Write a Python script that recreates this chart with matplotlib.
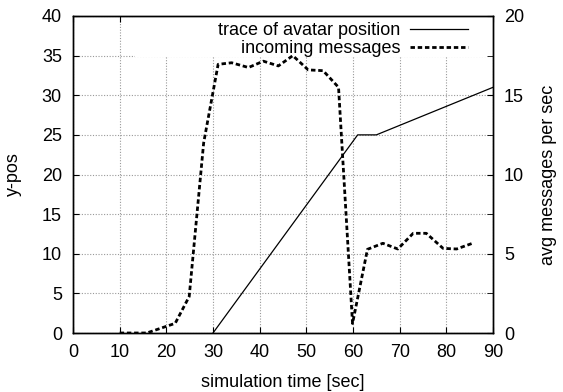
import matplotlib
matplotlib.use("Agg")
import matplotlib.pyplot as plt
from matplotlib.patches import Rectangle
from matplotlib.ticker import MultipleLocator

plt.rcParams['font.family'] = ['Liberation Sans', 'DejaVu Sans']

# avatar trace (left axis, y-pos)
trace_t = [30, 61, 65, 90]
trace_y = [0, 25, 25, 31]

# incoming messages (right axis, avg msgs per sec)
msg_t = [10, 13, 15.8, 21.9, 24.9, 28.0, 31.1, 34.0, 37.6, 40.8, 44.0, 47.1, 50.4,
         53.6, 56.9, 59.9, 63.1, 66.4, 69.6, 72.9, 75.7, 79.3, 82.2, 85.6]
msg_v = [0, 0, 0, 0.61, 2.3, 12.0, 16.95, 17.05, 16.75, 17.15, 16.85, 17.5, 16.6,
         16.55, 15.5, 0.6, 5.28, 5.66, 5.3, 6.29, 6.29, 5.34, 5.3, 5.66]

fig = plt.figure(figsize=(5.63, 3.92), dpi=100)
ax = fig.add_axes([73/563, 1-333/392, 420/563, 317/392])
ax2 = ax.twinx()

ax.set_xlim(0, 90)
ax.set_ylim(0, 40)
ax2.set_ylim(0, 20)

ax.xaxis.set_major_locator(MultipleLocator(10))
ax.yaxis.set_major_locator(MultipleLocator(5))
ax2.yaxis.set_major_locator(MultipleLocator(5))
ax2.yaxis.set_minor_locator(MultipleLocator(2.5))

ax.grid(True, color='#999999', linestyle=(0, (1, 1.5)), linewidth=0.8)
ax.set_axisbelow(True)

# white key background like gnuplot
ax.add_patch(Rectangle(((135-73)/420, (333-57)/317), (493-135)/420, 41/317,
                       transform=ax.transAxes, facecolor='white', edgecolor='none', zorder=1.5))

l1, = ax.plot(trace_t, trace_y, color='black', linewidth=0.9, zorder=3,
              label='trace of avatar position')
l2, = ax2.plot(msg_t, msg_v, color='black', linewidth=2.0, linestyle=(0, (1.6, 1.0)),
               zorder=3, label='incoming messages')

fs = 13
for a in (ax, ax2):
    a.tick_params(direction='in', length=4, width=0.8, labelsize=fs)
    for s in a.spines.values():
        s.set_linewidth(1.0)
ax.tick_params(top=True, right=False, pad=8)
ax2.tick_params(which='minor', direction='in', length=4, right=True)
ax2.tick_params(which='major', pad=8)

ax.set_xlabel('simulation time [sec]', fontsize=fs, labelpad=9)
ax.set_ylabel('y-pos', fontsize=fs, labelpad=14)
ax2.set_ylabel('avg messages per sec', fontsize=fs, labelpad=11)

leg = ax2.legend([l1, l2], [l1.get_label(), l2.get_label()], loc='upper right',
                 bbox_to_anchor=((468-73)/420, (333-22)/317),
                 markerfirst=False, frameon=False, fontsize=fs, handlelength=3.2,
                 handletextpad=0.55, borderaxespad=0.0, borderpad=0.0,
                 labelspacing=0.05)
for t in leg.get_texts():
    t.set_ha('right')
leg.set_zorder(5)
ax2.patch.set_visible(False)

fig.savefig('out.png', dpi=100)
